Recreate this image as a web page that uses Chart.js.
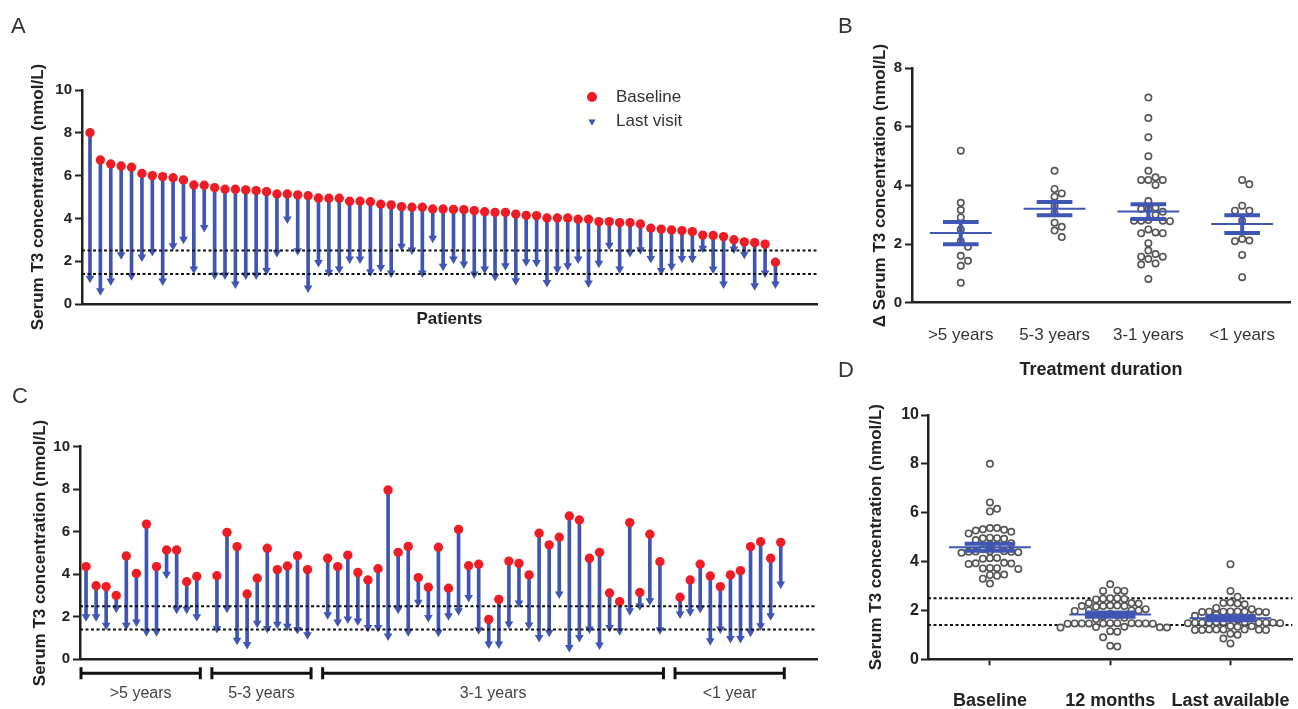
<!DOCTYPE html>
<html>
<head>
<meta charset="utf-8">
<script src="https://cdn.jsdelivr.net/npm/chart.js@4.4.1/dist/chart.umd.min.js"></script>
<style>
  body { margin: 0; background: #fff; width: 1298px; height: 709px; overflow: hidden; position: relative;
         font-family: 'Liberation Sans', Arial, sans-serif; }
  canvas { position: absolute; }
  .lbl { position: absolute; font-size: 22px; line-height: 22px; color: #333; }
</style>
</head>
<body>
<canvas id="cA" width="830" height="345" style="left:0;top:0"></canvas>
<canvas id="cB" width="468" height="390" style="left:830px;top:0"></canvas>
<canvas id="cC" width="830" height="329" style="left:0;top:380px"></canvas>
<canvas id="cD" width="468" height="319" style="left:830px;top:390px"></canvas>
<div class="lbl" style="left:11px;top:15px">A</div>
<div class="lbl" style="left:838px;top:15px">B</div>
<div class="lbl" style="left:12px;top:385px">C</div>
<div class="lbl" style="left:838px;top:359px">D</div>
<script>
// ---- data ----
const refLines = [2.5, 1.4];               // reference range, nmol/L
const yearGroups = ['>5 years', '5-3 years', '3-1 years', '<1 years'];
const bracketLabels = ['>5 years', '5-3 years', '3-1 years', '<1 year'];
const visitGroups = ['Baseline', '12 months', 'Last available'];

// A: patients sorted by baseline
const aBaseline = [8.0, 6.73, 6.54, 6.45, 6.39, 6.1, 6.0, 5.95, 5.9, 5.8,
  5.56, 5.55, 5.44, 5.36, 5.36, 5.33, 5.3, 5.25, 5.14, 5.14,
  5.1, 5.06, 4.95, 4.94, 4.94, 4.8, 4.8, 4.78, 4.66, 4.63,
  4.55, 4.52, 4.52, 4.44, 4.44, 4.42, 4.41, 4.36, 4.31, 4.28,
  4.28, 4.2, 4.14, 4.13, 4.02, 4.02, 4.02, 3.96, 3.96, 3.85,
  3.85, 3.8, 3.8, 3.74, 3.54, 3.5, 3.46, 3.43, 3.38, 3.22,
  3.2, 3.15, 3.0, 2.9, 2.87, 2.8, 1.95];
const aLast = [1.2, 0.62, 1.07, 2.3, 1.32, 2.2, 2.45, 1.07, 2.72, 3.03,
  1.63, 3.58, 1.35, 1.35, 0.93, 1.35, 1.35, 1.56, 2.41, 3.97,
  2.49, 0.75, 1.94, 1.48, 1.63, 2.1, 2.1, 1.51, 1.71, 1.45,
  2.7, 2.52, 1.45, 3.07, 1.76, 2.1, 1.87, 1.4, 1.63, 1.29,
  1.79, 1.09, 1.98, 1.94, 1.01, 1.63, 1.79, 2.1, 0.98, 1.9,
  2.75, 1.63, 2.41, 2.54, 2.13, 1.56, 1.76, 2.13, 2.13, 2.6,
  1.63, 0.93, 2.57, 2.33, 0.85, 1.45, 0.93];

// C: same patients grouped by treatment duration
const cSizes = [12, 10, 34, 11];
const cBaseline = [
  4.36, 3.46, 3.42, 3.0, 4.86, 4.04, 6.36, 4.36, 5.14, 5.14, 3.65, 3.9,
  3.93, 5.97, 5.3, 3.07, 3.81, 5.22, 4.22, 4.39, 4.87, 4.22,
  4.75, 4.36, 4.9, 4.08, 3.73, 4.26, 7.96, 5.03, 5.31, 3.84, 3.39, 5.27, 3.34, 6.11, 4.4, 4.47, 1.88,
  2.82, 4.62, 4.51, 3.97, 5.93, 5.38, 5.74, 6.74, 6.55, 4.75, 5.03, 3.12, 2.71, 6.43, 3.14, 5.88, 4.59,
  2.92, 3.73, 4.47, 3.92, 3.42, 3.97, 4.17, 5.3, 5.53, 4.75, 5.5];
const cLast = [
  2.0, 2.0, 1.6, 2.4, 1.6, 1.75, 1.3, 1.3, 4.0, 2.35, 2.35, 2.0,
  1.45, 2.4, 0.9, 0.7, 1.7, 1.45, 1.65, 1.55, 1.4, 1.15,
  2.1, 1.75, 1.9, 1.8, 1.5, 1.5, 1.1, 2.35, 1.3, 2.68, 1.97, 1.27, 2.05, 2.28, 2.91, 1.39, 0.72,
  0.72, 1.66, 2.65, 1.61, 1.03, 1.27, 3.07, 0.56, 1.03, 1.42, 0.67, 1.5, 1.34, 2.28, 2.52, 2.75, 1.39,
  2.13, 2.24, 2.39, 0.87, 1.42, 0.98, 0.98, 1.27, 1.58, 2.05, 3.54];

// B: delta T3 by treatment duration
const bGt5 = [5.19, 3.41, 3.16, 2.91, 2.5, 2.1, 1.91, 1.6, 1.43, 1.26, 0.68];
const bY53 = [4.5, 3.88, 3.73, 3.62, 3.3, 3.05, 2.73, 2.59, 2.46, 2.24];
const bY31 = [7.0, 6.3, 5.65, 5.0, 4.5, 4.28, 4.19, 4.19, 4.19, 4.02, 3.47, 3.25, 3.2, 3.2, 3.1, 3.0,
  2.82, 2.8, 2.8, 2.8, 2.78, 2.5, 2.4, 2.37, 2.37, 2.03, 1.78, 1.66, 1.57, 1.57, 1.49, 1.34, 1.3, 0.81];
const bLt1 = [4.19, 4.04, 3.31, 3.14, 3.14, 2.8, 2.17, 2.12, 2.1, 1.63, 0.87];

// D: T3 at baseline / 12 months / last available
const dBaseline = [8.0, 6.42, 6.16, 6.05, 5.37, 5.32, 5.27, 5.22, 5.3, 5.37, 5.15, 4.98, 4.96, 4.95, 4.93,
  4.88, 4.75, 4.7, 4.6, 4.5, 4.42, 4.41, 4.4, 4.4, 4.38, 4.42, 4.36, 4.14, 4.12, 4.15, 3.95, 3.93,
  3.9, 3.92, 3.74, 3.72, 3.73, 3.7, 3.47, 3.45, 3.42, 3.3, 3.1];
const d12m = [3.07, 2.82, 2.8, 2.8, 2.5, 2.48, 2.47, 2.5, 2.45, 2.3, 2.3, 2.28, 2.2, 2.18, 2.18, 2.2,
  2.18, 2.15, 2.0, 2.0, 1.98, 2.0, 2.05, 1.85, 1.8, 1.75, 1.7, 1.65, 1.48, 1.47, 1.47, 1.46, 1.47,
  1.48, 1.47, 1.46, 1.47, 1.48, 1.47, 1.33, 1.31, 1.3, 1.32, 1.3, 1.13, 1.15, 0.9, 0.55, 0.52];
const dLast = [3.89, 2.8, 2.56, 2.32, 2.3, 2.28, 2.25, 2.1, 2.05, 1.96, 1.95, 1.95, 1.94, 1.95, 1.93,
  1.96, 1.95, 1.82, 1.78, 1.72, 1.68, 1.62, 1.52, 1.5, 1.5, 1.48, 1.5, 1.52, 1.5, 1.48, 1.5, 1.5,
  1.52, 1.35, 1.33, 1.36, 1.22, 1.2, 1.22, 1.2, 1.21, 1.22, 1.2, 1.22, 1.05, 1.0, 0.85, 0.65];

// ---- style ----
const FONT = "'Liberation Sans', Arial, sans-serif";
const INK = '#222';
const RED = '#ee1d25';
const BLUE = '#3f56b3';
Chart.defaults.font.family = FONT;
Chart.defaults.color = INK;

const baseOpts = {
  responsive: false, animation: false, events: [], devicePixelRatio: 1,
  plugins: { legend: { display: false }, tooltip: { enabled: false } },
};

function yAxis(max, width, title, titlePad, tickSize, tickPad) {
  return {
    type: 'linear', min: 0, max,
    ticks: { stepSize: 2, color: INK, padding: tickPad, font: { size: tickSize, weight: 'bold' } },
    grid: { drawOnChartArea: false, drawTicks: true, tickLength: 7, tickColor: INK, tickWidth: 2 },
    border: { color: INK, width: 2.5 },
    title: { display: true, text: title, color: INK, font: { size: 17, weight: 'bold' },
             padding: { top: titlePad, bottom: 0 } },
    afterFit: s => { s.width = width; },
  };
}

// dashed reference range lines
function refLinePlugin(hook) {
  return {
    id: 'refLines',
    [hook](chart) {
      const { ctx, chartArea: a, scales: { y } } = chart;
      ctx.save();
      ctx.strokeStyle = '#111'; ctx.lineWidth = 2; ctx.setLineDash([3, 2.5]);
      refLines.forEach(v => {
        const py = y.getPixelForValue(v);
        ctx.beginPath(); ctx.moveTo(a.left, py); ctx.lineTo(a.right, py); ctx.stroke();
      });
      ctx.restore();
    },
  };
}

// mean +/- SEM bars for scatter groups
function meanSemPlugin(groups, halfMean, halfCap) {
  return {
    id: 'meanSem',
    afterDatasetsDraw(chart) {
      const { ctx, scales: { x, y } } = chart;
      const seg = (x0, y0, x1, y1, w) => {
        ctx.lineWidth = w; ctx.beginPath(); ctx.moveTo(x0, y0); ctx.lineTo(x1, y1); ctx.stroke();
      };
      ctx.save();
      ctx.strokeStyle = BLUE;
      groups.forEach((vals, i) => {
        const n = vals.length;
        const m = vals.reduce((s, v) => s + v, 0) / n;
        const sd = Math.sqrt(vals.reduce((s, v) => s + (v - m) ** 2, 0) / (n - 1));
        const se = sd / Math.sqrt(n);
        const ym = y.getPixelForValue(m), yt = y.getPixelForValue(m + se), yb = y.getPixelForValue(m - se);
        const xc = x.getPixelForValue(i);
        const cl = x.getPixelForValue(i - halfCap), cr = x.getPixelForValue(i + halfCap);
        seg(xc, yt, xc, yb, 4);
        seg(cl, yt, cr, yt, 4);
        seg(cl, yb, cr, yb, 4);
        seg(x.getPixelForValue(i - halfMean), ym, x.getPixelForValue(i + halfMean), ym, 2);
      });
      ctx.restore();
    },
  };
}

// simple beeswarm: horizontal offsets (category units) so circles don't overlap
function swarm(vals, pxY, pxX, d) {
  const placed = [];
  const offs = new Array(vals.length);
  const order = vals.map((v, i) => i).sort((a, b) => vals[b] - vals[a]);
  for (const i of order) {
    const y = vals[i] * pxY;
    let x = 0;
    for (let k = 0; k < 40; k++) {
      const cands = k === 0 ? [0] : [k * d, -k * d];
      const ok = cands.find(c => placed.every(p => (p.x - c) ** 2 + (p.y - y) ** 2 >= d * d * 0.9));
      if (ok !== undefined) { x = ok; break; }
    }
    placed.push({ x, y });
    offs[i] = x / pxX;
  }
  return offs;
}

function lollipopSets(xs, base, last) {
  return [
    { label: 'Baseline', data: base.map((v, i) => ({ x: xs[i], y: v })), pointStyle: 'circle',
      pointRadius: 4.7, pointBackgroundColor: RED, pointBorderWidth: 0, order: 1, clip: false },
    { label: 'Last visit', data: last.map((v, i) => ({ x: xs[i], y: v })), pointStyle: 'triangle',
      pointRotation: 180, pointRadius: 5, pointBackgroundColor: BLUE, pointBorderWidth: 0, order: 2, clip: false },
    { type: 'bar', label: 'change', data: base.map((v, i) => ({ x: xs[i], y: [last[i], v] })),
      backgroundColor: BLUE, borderWidth: 0, barThickness: 3, order: 3 },
  ];
}

// ---- Panel A ----
const aX = aBaseline.map((v, i) => i + 1);
const legendA = {
  id: 'legendA',
  afterDraw(chart) {
    const { ctx } = chart;
    ctx.save();
    ctx.font = `17px ${FONT}`;
    ctx.textBaseline = 'middle';
    chart.data.datasets.slice(0, 2).forEach((ds, i) => {
      const y = 97 + i * 24.5;
      ctx.fillStyle = ds.pointBackgroundColor;
      Chart.helpers.drawPoint(ctx, { pointStyle: ds.pointStyle, radius: i ? 4.2 : 5,
        rotation: ds.pointRotation || 0, borderWidth: 0 }, 592, y);
      ctx.fillStyle = '#333';
      ctx.fillText(ds.label, 616, y);
    });
    ctx.restore();
  },
};

new Chart(document.getElementById('cA'), {
  type: 'scatter',
  data: { datasets: lollipopSets(aX, aBaseline, aLast) },
  options: {
    ...baseOpts,
    layout: { padding: { left: 0, right: 13, top: 90, bottom: 0 } },
    scales: {
      x: { type: 'linear', min: 0.23, max: 71, offset: false,
        ticks: { display: false }, grid: { offset: false, drawOnChartArea: false, drawTicks: false },
        border: { color: INK, width: 2.5 },
        title: { display: true, text: 'Patients', color: INK, font: { size: 17, weight: 'bold' },
                 padding: { top: 0, bottom: 15 } },
        afterFit: s => { s.height = 41; s.paddingLeft = 0; s.paddingRight = 0; } },
      y: yAxis(10, 82, 'Serum T3 concentration (nmol/L)', 28, 15, 3),
    },
  },
  plugins: [refLinePlugin('afterDatasetsDraw'), legendA],
});

// ---- Panel B ----
const bGroups = [bGt5, bY53, bY31, bLt1];
const circleStyle = { pointRadius: 3.2, pointBorderWidth: 1.6, pointBorderColor: '#555',
                      pointBackgroundColor: '#fff', clip: false };
new Chart(document.getElementById('cB'), {
  type: 'scatter',
  data: {
    datasets: bGroups.map((vals, g) => {
      const off = swarm(vals, 29.3, 94, 7.2);
      return { label: yearGroups[g], data: vals.map((v, i) => ({ x: g + off[i], y: v })), ...circleStyle };
    }),
  },
  options: {
    ...baseOpts,
    layout: { padding: { left: 0, right: 8, top: 68.3, bottom: 0 } },
    scales: {
      x: { type: 'linear', min: -0.52, max: 3.51,
        afterBuildTicks: s => { s.ticks = yearGroups.map((_, i) => ({ value: i })); },
        ticks: { callback: v => yearGroups[v], color: '#333', padding: 22, maxRotation: 0, autoSkip: false,
                 font: { size: 17 } },
        grid: { drawOnChartArea: false, drawTicks: false },
        border: { color: INK, width: 2.5 },
        title: { display: true, text: 'Treatment duration', color: INK, font: { size: 18, weight: 'bold' },
                 padding: { top: 0, bottom: 9 } },
        afterFit: s => { s.height = 87.3; s.paddingLeft = 0; s.paddingRight = 0; } },
      y: yAxis(8, 82, '\u0394 Serum T3 concentration (nmol/L)', 40, 15, 3),
    },
  },
  plugins: [meanSemPlugin(bGroups, 0.33, 0.19)],
});

// ---- Panel C ----
const cX = [];
{
  let slot = 0;
  cSizes.forEach(n => { for (let k = 0; k < n; k++) cX.push(slot++); slot++; });
}
const bracketsC = {
  id: 'brackets',
  afterDraw(chart) {
    const { ctx, chartArea: a, scales: { x } } = chart;
    const yb = a.bottom + 14;
    ctx.save();
    ctx.strokeStyle = '#111'; ctx.lineWidth = 3;
    ctx.font = `16px ${FONT}`; ctx.fillStyle = '#444';
    ctx.textAlign = 'center'; ctx.textBaseline = 'middle';
    let start = 0;
    cSizes.forEach((n, g) => {
      const x0 = x.getPixelForValue(cX[start] - 0.5);
      const x1 = x.getPixelForValue(cX[start + n - 1] + 0.35);
      ctx.beginPath();
      ctx.moveTo(x0, yb); ctx.lineTo(x1, yb);
      ctx.moveTo(x0, yb - 6); ctx.lineTo(x0, yb + 6);
      ctx.moveTo(x1, yb - 6); ctx.lineTo(x1, yb + 6);
      ctx.stroke();
      ctx.fillText(bracketLabels[g], (x0 + x1) / 2, yb + 20);
      start += n;
    });
    ctx.restore();
  },
};

new Chart(document.getElementById('cC'), {
  type: 'scatter',
  data: { datasets: lollipopSets(cX, cBaseline, cLast) },
  options: {
    ...baseOpts,
    layout: { padding: { left: 0, right: 13, top: 66.7, bottom: 0 } },
    scales: {
      x: { type: 'linear', min: -0.6, max: 72.6, offset: false,
        ticks: { display: false }, grid: { offset: false, drawOnChartArea: false, drawTicks: false },
        border: { color: INK, width: 2.5 },
        afterFit: s => { s.height = 49.7; s.paddingLeft = 0; s.paddingRight = 0; } },
      y: yAxis(10, 80, 'Serum T3 concentration (nmol/L)', 30, 15, 3),
    },
  },
  plugins: [refLinePlugin('afterDatasetsDraw'), bracketsC],
});

// ---- Panel D ----
const dGroups = [dBaseline, d12m, dLast];
new Chart(document.getElementById('cD'), {
  type: 'scatter',
  data: {
    datasets: dGroups.map((vals, g) => {
      const off = swarm(vals, 24.4, 122, 7.2);
      return { label: visitGroups[g], data: vals.map((v, i) => ({ x: g + off[i], y: v })), ...circleStyle };
    }),
  },
  options: {
    ...baseOpts,
    layout: { padding: { left: 0, right: 0, top: 25, bottom: 0 } },
    scales: {
      x: { type: 'linear', min: -0.515, max: 2.515,
        afterBuildTicks: s => { s.ticks = visitGroups.map((_, i) => ({ value: i })); },
        ticks: { callback: v => visitGroups[v], color: INK, padding: 25, maxRotation: 0, autoSkip: false,
                 font: { size: 18, weight: 'bold' } },
        grid: { drawOnChartArea: false, drawTicks: true, tickLength: 6, tickColor: INK, tickWidth: 2 },
        border: { color: INK, width: 2.5 },
        afterFit: s => { s.height = 49.7; s.paddingLeft = 0; s.paddingRight = 0; } },
      y: yAxis(10, 98, 'Serum T3 concentration (nmol/L)', 36.5, 16, 2),
    },
  },
  plugins: [refLinePlugin('beforeDatasetsDraw'), meanSemPlugin(dGroups, 0.34, 0.21)],
});
</script>
</body>
</html>
